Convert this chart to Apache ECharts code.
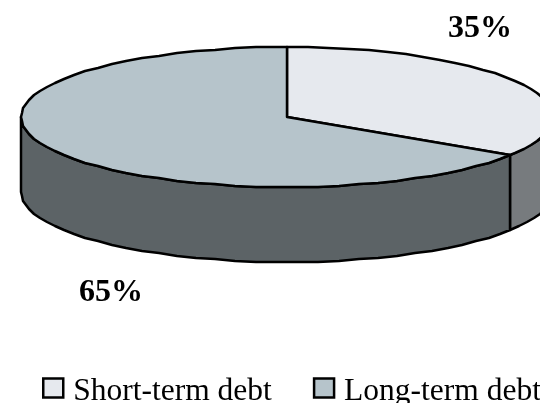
<!DOCTYPE html>
<html><head><meta charset="utf-8">
<style>html,body{margin:0;padding:0;background:#fff}#c{width:540px;height:403px}</style>
<script src="https://cdn.jsdelivr.net/npm/echarts@6/dist/echarts.min.js"></script>
</head><body><div id="c"></div>
<script>
const categories = ['Short-term debt', 'Long-term debt'];
const shares = [35, 65];
const topColors = ['#e6e9ee', '#b6c4cb'];
const wallColors = ['#777b7e', '#5c6366'];

// Layout of the tilted disc (not data)
const CX = 287, CY = 117, RX = 266, RY = 70, DEPTH = 75, WARP = 0.89, STEP = 4;
const LABEL_POS = [[480, 29], [111, 293]];

function rim(deg, dy) {
  const t = deg * Math.PI / 180;
  const s = Math.sin(t), c = Math.cos(t) * WARP, n = Math.hypot(s, c);
  return [Math.round(CX + RX * s / n), Math.round(CY - RY * c / n + dy)];
}
function arc(from, to, dy) {
  const pts = [];
  for (let a = from; a < to; a += STEP) pts.push(rim(a, dy));
  pts.push(rim(to, dy));
  return pts;
}
const total = shares.reduce((a, b) => a + b, 0);
const lineStyle = { stroke: '#000', lineWidth: 2.5, lineJoin: 'round' };

function makeRender(idx) {
  return function (params, api) {
    const value = api.value(0);
    const before = shares.slice(0, idx).reduce((a, b) => a + b, 0);
    const a0 = before / total * 360, a1 = (before + value) / total * 360;
    const children = [];
    const w0 = Math.max(a0, 90), w1 = Math.min(a1, 270);
    if (w1 > w0) {
      const front = arc(w0, w1, 0);
      const back = arc(w0, w1, DEPTH).reverse();
      children.push({ type: 'polygon', shape: { points: front.concat(back) },
        style: Object.assign({ fill: wallColors[idx] }, lineStyle) });
    }
    children.push({ type: 'polygon', shape: { points: [[CX, CY]].concat(arc(a0, a1, 0)) },
      style: Object.assign({ fill: topColors[idx] }, lineStyle) });
    children.push({ type: 'text', x: LABEL_POS[idx][0], y: LABEL_POS[idx][1],
      style: { text: value + '%', fill: '#000', align: 'center', verticalAlign: 'middle',
        font: 'bold 32px "Liberation Serif"' } });
    return { type: 'group', children };
  };
}

const chart = echarts.init(document.getElementById('c'), null, { renderer: 'canvas' });
chart.setOption({
  animation: false,
  backgroundColor: '#fff',
  legend: {
    left: 42, top: 376, padding: 0, width: 800,
    itemWidth: 20, itemHeight: 19, itemGap: 41,
    formatter: '{t|{name}}',
    textStyle: {
      rich: { t: { fontFamily: 'Liberation Serif', fontSize: 31.5, color: '#000', padding: [8, 0, 0, 5] } }
    },
    data: categories.map((name, i) => ({
      name, icon: 'rect',
      itemStyle: { color: topColors[i], borderColor: '#000', borderWidth: 2.5 }
    }))
  },
  series: categories.map((name, i) => ({
    type: 'custom', name, coordinateSystem: 'none', silent: true,
    itemStyle: { color: topColors[i] },
    renderItem: makeRender(i),
    data: [[shares[i]]]
  }))
});
</script></body></html>
